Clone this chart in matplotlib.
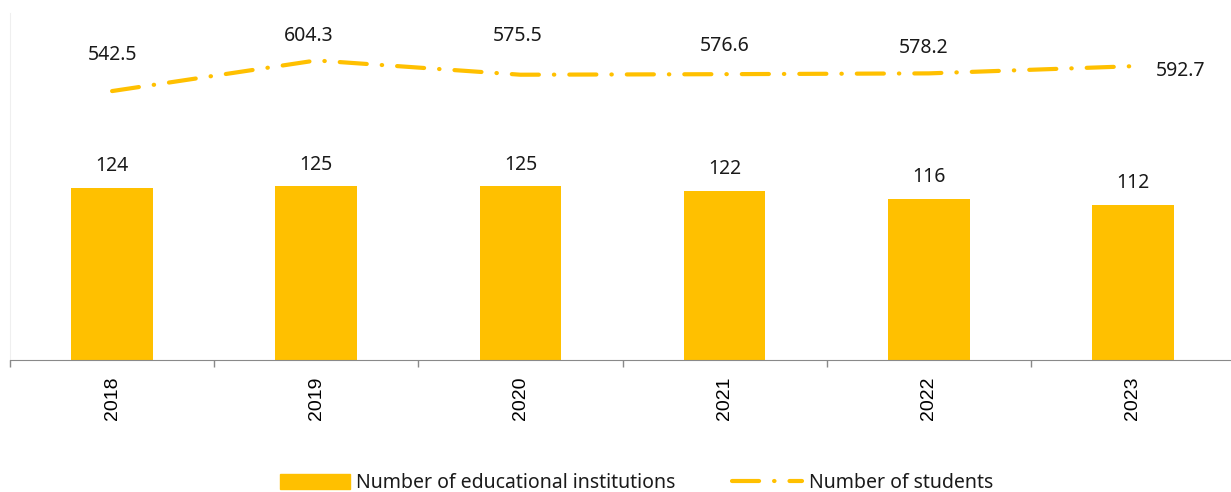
import matplotlib
matplotlib.use("Agg")
import matplotlib.pyplot as plt
import numpy as np
from matplotlib.patches import Patch
from matplotlib.lines import Line2D

years = ["2018", "2019", "2020", "2021", "2022", "2023"]
institutions = [124, 125, 125, 122, 116, 112]
students = [542.5, 604.3, 575.5, 576.6, 578.2, 592.7]

plt.rcParams['font.family'] = ['Noto Sans', 'DejaVu Sans']
COLOR = "#FFC000"
FS = 14
PX = 0.72  # points per pixel at dpi 100
CAP = 7    # half digit height in px (for visual centering)
DASH = (6.5, 3.6, 0.1, 3.6)

fig = plt.figure(figsize=(12.31, 4.92), dpi=100)
ax = fig.add_axes([10/1231, 1-360/492, 1225/1231, 347/492])
x = np.arange(len(years))
ax.bar(x, institutions, width=0.4, color=COLOR, zorder=2)
ax.set_xlim(-0.5, len(years)-0.5)
ax.set_ylim(0, 250)
ax.set_yticks([])
ax.set_xticks(x)
ax.set_xticklabels(years, rotation=90, fontsize=FS, family=['Liberation Sans'])
ax.tick_params(axis='x', length=0, pad=12)
ax.set_xticks(np.arange(-0.5, len(years)), minor=True)
ax.tick_params(axis='x', which='minor', length=5, color="#898989", width=1)
for s in ['top', 'right']:
    ax.spines[s].set_visible(False)
ax.spines['left'].set_color("#efefef")
ax.spines['bottom'].set_color("#898989")

for xi, v in zip(x, institutions):
    ax.annotate(f"{v}", (xi, v), xytext=(0, (24 - CAP)*PX), textcoords='offset points',
                ha='center', va='baseline', fontsize=FS, color="#1a1a1a")

ax2 = ax.twinx()
ax2.set_ylim(0, 700)
ax2.set_yticks([])
for s in ax2.spines.values():
    s.set_visible(False)
ax2.plot(x, students, color=COLOR, lw=3, dashes=DASH,
         solid_capstyle='round', dash_capstyle='round', zorder=3)
lbl_off = [(0, 38.5), (-8, 26), (-3, 40.5), (0, 30), (-5.5, 27), (48, -3)]
for xi, v, (dx, dy) in zip(x, students, lbl_off):
    ax2.annotate(f"{v:.1f}", (xi, v), xytext=(dx*PX, (dy - CAP)*PX), textcoords='offset points',
                 ha='center', va='baseline', fontsize=FS, color="#1a1a1a")

handles = [Patch(color=COLOR, label="Number of educational institutions"),
           Line2D([0], [0], color=COLOR, lw=3, dashes=DASH, dash_capstyle='round',
                  label="Number of students")]
fig.legend(handles=handles, loc='center', bbox_to_anchor=(636.5/1231, 1-483/492),
           ncol=2, frameon=False, fontsize=FS, handlelength=3.6, handleheight=0.78,
           columnspacing=2.9, handletextpad=0.35, labelcolor="#1a1a1a")

fig.savefig("out.png", dpi=100)
